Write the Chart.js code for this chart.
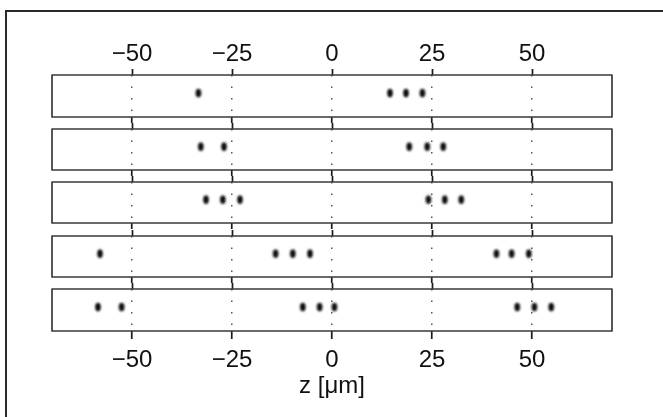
<!DOCTYPE html>
<html>
<head>
<meta charset="utf-8">
<title>z [μm]</title>
<script src="https://cdn.jsdelivr.net/npm/chart.js@4"></script>
<style>
  body { margin: 0; background: #fff; width: 663px; height: 417px; overflow: hidden; position: relative; }
  #marco { position: absolute; left: 5px; top: 10px; width: 720px; height: 460px; border: 2px solid #2a2a2a; }
  canvas { position: absolute; left: 0; }
</style>
</head>
<body>
<div id="marco"></div>
<script>
// posiciones z de los puntos en cada fila (de arriba hacia abajo)
var zTicks = [-50, -25, 0, 25, 50];
var zMin = -70, zMax = 70;
var fila1 = [-33.4, 14.5, 18.5, 22.6];
var fila2 = [-32.8, -27.0, 19.3, 23.8, 27.8];
var fila3 = [-31.5, -27.3, -23.0, 24.1, 28.2, 32.3];
var fila4 = [-58.0, -14.1, -9.8, -5.5, 41.1, 44.9, 49.2];
var fila5 = [-58.5, -52.6, -7.3, -3.1, 0.6, 46.3, 50.6, 54.8];
var filaY = 0.14;
var filas = [fila1, fila2, fila3, fila4, fila5];

// caja de cada panel en la pagina
var panelTop = [75, 128, 181, 235, 288];
var panelAlto = 43;

Chart.defaults.font.family = "'Liberation Sans', Arial, Helvetica, sans-serif";
Chart.defaults.font.size = 24;
Chart.defaults.color = '#111';

// punto difuso, un poco mas alto que ancho
function hacerPunto() {
  var c = document.createElement('canvas');
  c.width = 12; c.height = 16;
  var g = c.getContext('2d');
  g.filter = 'blur(1px)';
  g.fillStyle = '#0a0a0a';
  g.beginPath();
  g.ellipse(6, 8, 2.8, 4.2, 0, 0, Math.PI * 2);
  g.fill();
  return c;
}
var punto = hacerPunto();

function etiqueta(v) {
  return v < 0 ? '\u2212' + Math.abs(v) : String(v);
}

function ponerTicks(s) {
  s.ticks = zTicks.map(function(v) { return { value: v }; });
}

// marco rectangular alrededor del area de cada panel
var marcoPanel = {
  id: 'marcoPanel',
  afterDraw: function(chart) {
    var a = chart.chartArea, ctx = chart.ctx;
    ctx.save();
    ctx.strokeStyle = '#3a3a3a';
    ctx.lineWidth = 1.7;
    ctx.lineJoin = 'round';
    ctx.strokeRect(a.left, a.top, a.right - a.left, a.bottom - a.top);
    ctx.restore();
  }
};

filas.forEach(function(fila, i) {
  var primero = i === 0, ultimo = i === filas.length - 1;
  var arriba = primero ? 75 : 6;
  var abajo = ultimo ? 70 : 6;

  var cv = document.createElement('canvas');
  cv.width = 663;
  cv.height = arriba + panelAlto + abajo;
  cv.style.top = (panelTop[i] - arriba) + 'px';
  document.body.appendChild(cv);

  new Chart(cv, {
    type: 'scatter',
    data: {
      datasets: [{
        data: fila.map(function(z) { return { x: z, y: filaY }; }),
        pointStyle: punto,
        pointRadius: 6,
        pointHoverRadius: 6
      }]
    },
    options: {
      responsive: false,
      animation: false,
      devicePixelRatio: 1,
      events: [],
      layout: { padding: { left: 52, right: 51, top: 0, bottom: 0 } },
      plugins: { legend: { display: false }, tooltip: { enabled: false } },
      scales: {
        x: {
          type: 'linear', position: 'bottom', min: zMin, max: zMax,
          afterBuildTicks: ponerTicks,
          afterFit: function(s) { s.height = abajo; },
          grid: { color: '#555', lineWidth: 1.5, tickColor: '#1a1a1a', tickWidth: 1.7, tickLength: ultimo ? 8 : 6 },
          border: { display: false, dash: [1.5, 10] },
          ticks: { display: ultimo, padding: 7, callback: etiqueta, maxRotation: 0 },
          title: { display: ultimo, text: 'z [μm]', padding: 0 }
        },
        x2: {
          type: 'linear', position: 'top', min: zMin, max: zMax,
          afterBuildTicks: ponerTicks,
          afterFit: function(s) { s.height = arriba; },
          grid: { drawOnChartArea: false, tickColor: '#1a1a1a', tickWidth: 1.7, tickLength: 6 },
          border: { display: false },
          ticks: { display: primero, padding: 0, callback: etiqueta, maxRotation: 0 }
        },
        y: { display: false, min: -1, max: 1 }
      }
    },
    plugins: [marcoPanel]
  });
});
</script>
</body>
</html>
